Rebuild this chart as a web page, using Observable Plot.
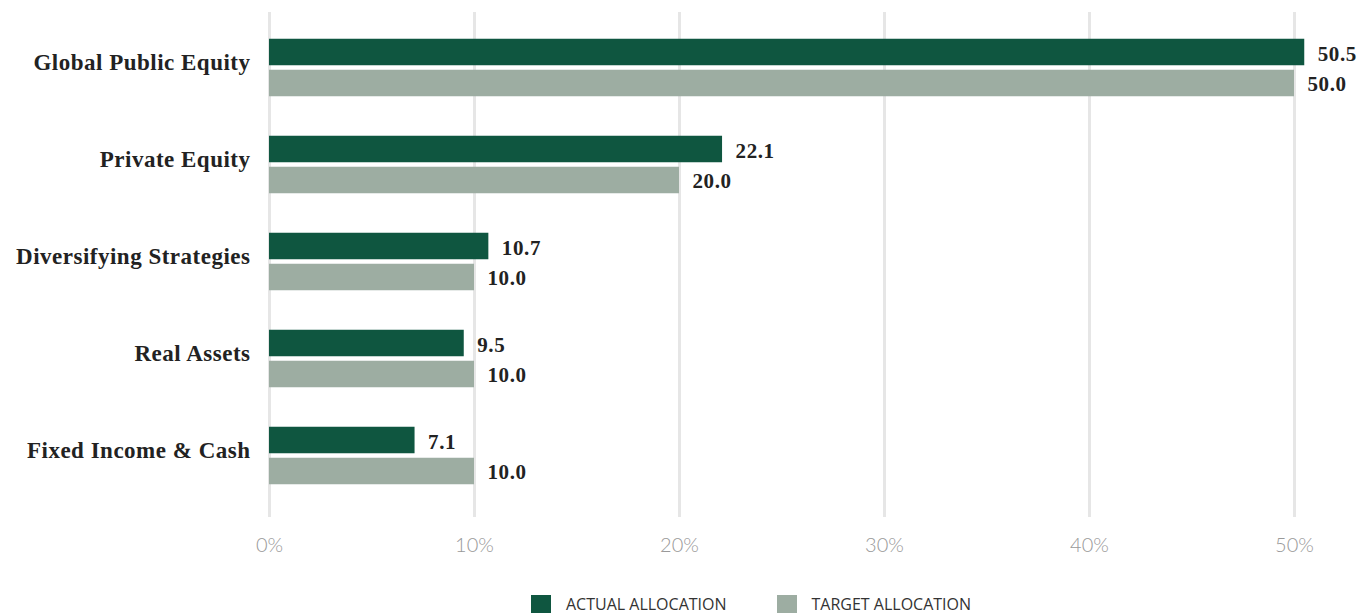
<!DOCTYPE html>
<html><head><meta charset="utf-8">
<script src="https://cdn.jsdelivr.net/npm/d3@7"></script>
<script src="https://cdn.jsdelivr.net/npm/@observablehq/plot@0.6"></script>
<style>
body{margin:0;background:#fff;overflow:hidden;}
#legend{display:flex;align-items:center;height:18px;padding-left:531px;margin-top:10px;font-family:"Open Sans",sans-serif;font-size:16px;line-height:17px;color:#333;}
#legend .sw{width:20px;height:18px;display:inline-block;margin-right:15px;}
#legend .item{display:flex;align-items:center;margin-right:50px;}
g[aria-label="y-axis tick label"] text{letter-spacing:0.5px;}
g.vlab text{letter-spacing:0.6px;}
</style></head>
<body>
<div id="chart"></div>
<script>
const categories = ["Global Public Equity","Private Equity","Diversifying Strategies","Real Assets","Fixed Income & Cash"];
const actual = [50.5, 22.1, 10.7, 9.5, 7.1];
const target = [50.0, 20.0, 10.0, 10.0, 10.0];
const xTicks = [0,10,20,30,40,50];
const seriesNames = ["ACTUAL ALLOCATION","TARGET ALLOCATION"];
const colors = ["#0f5640","#9dada2"];

const actualData = categories.map((c,i)=>({cat:c, v:actual[i]}));
const targetData = categories.map((c,i)=>({cat:c, v:target[i]}));

const serif = "'Liberation Serif', serif";
const plot = Plot.plot({
  width: 1371,
  height: 585,
  marginLeft: 269,
  marginRight: 77,
  marginTop: 12,
  marginBottom: 68,
  x: {domain:[0,50], label:null},
  y: {domain: categories, padding:0, insetTop:5, insetBottom:12, label:null},
  style: {background:"#fff"},
  marks: [
    Plot.ruleX(xTicks, {stroke:"#e6e6e6", strokeWidth:3}),
    Plot.barX(actualData, {x:"v", y:"cat", fill:colors[0], insetTop:19.75, insetBottom:50.75}),
    Plot.barX(targetData, {x:"v", y:"cat", fill:colors[1], insetTop:50.75, insetBottom:19.75}),
    Plot.text(actualData, {x:"v", y:"cat", text:d=>d.v.toFixed(1), dx:13, dy:-14, textAnchor:"start", fontFamily:serif, fontWeight:"bold", fontSize:21, fill:"#222", className:"vlab"}),
    Plot.text(targetData, {x:"v", y:"cat", text:d=>d.v.toFixed(1), dx:13, dy:16, textAnchor:"start", fontFamily:serif, fontWeight:"bold", fontSize:21, fill:"#222", className:"vlab"}),
    Plot.axisX(xTicks, {tickSize:0, tickPadding:20, tickFormat:d=>d+"%", fontSize:20, fill:"#999", fontFamily:"Lato, sans-serif", fontWeight:300, label:null}),
    Plot.axisY({tickSize:0, tickPadding:19, fontSize:23, fontFamily:serif, fontWeight:"bold", fill:"#222", dy:-5, label:null})
  ]
});
document.getElementById("chart").appendChild(plot);

const lg = document.createElement("div");
lg.id = "legend";
seriesNames.forEach((n,i)=>{
  const it = document.createElement("span"); it.className="item";
  const sw = document.createElement("span"); sw.className="sw"; sw.style.background=colors[i];
  it.appendChild(sw); it.appendChild(document.createTextNode(n));
  lg.appendChild(it);
});
document.body.appendChild(lg);
</script>
</body></html>
